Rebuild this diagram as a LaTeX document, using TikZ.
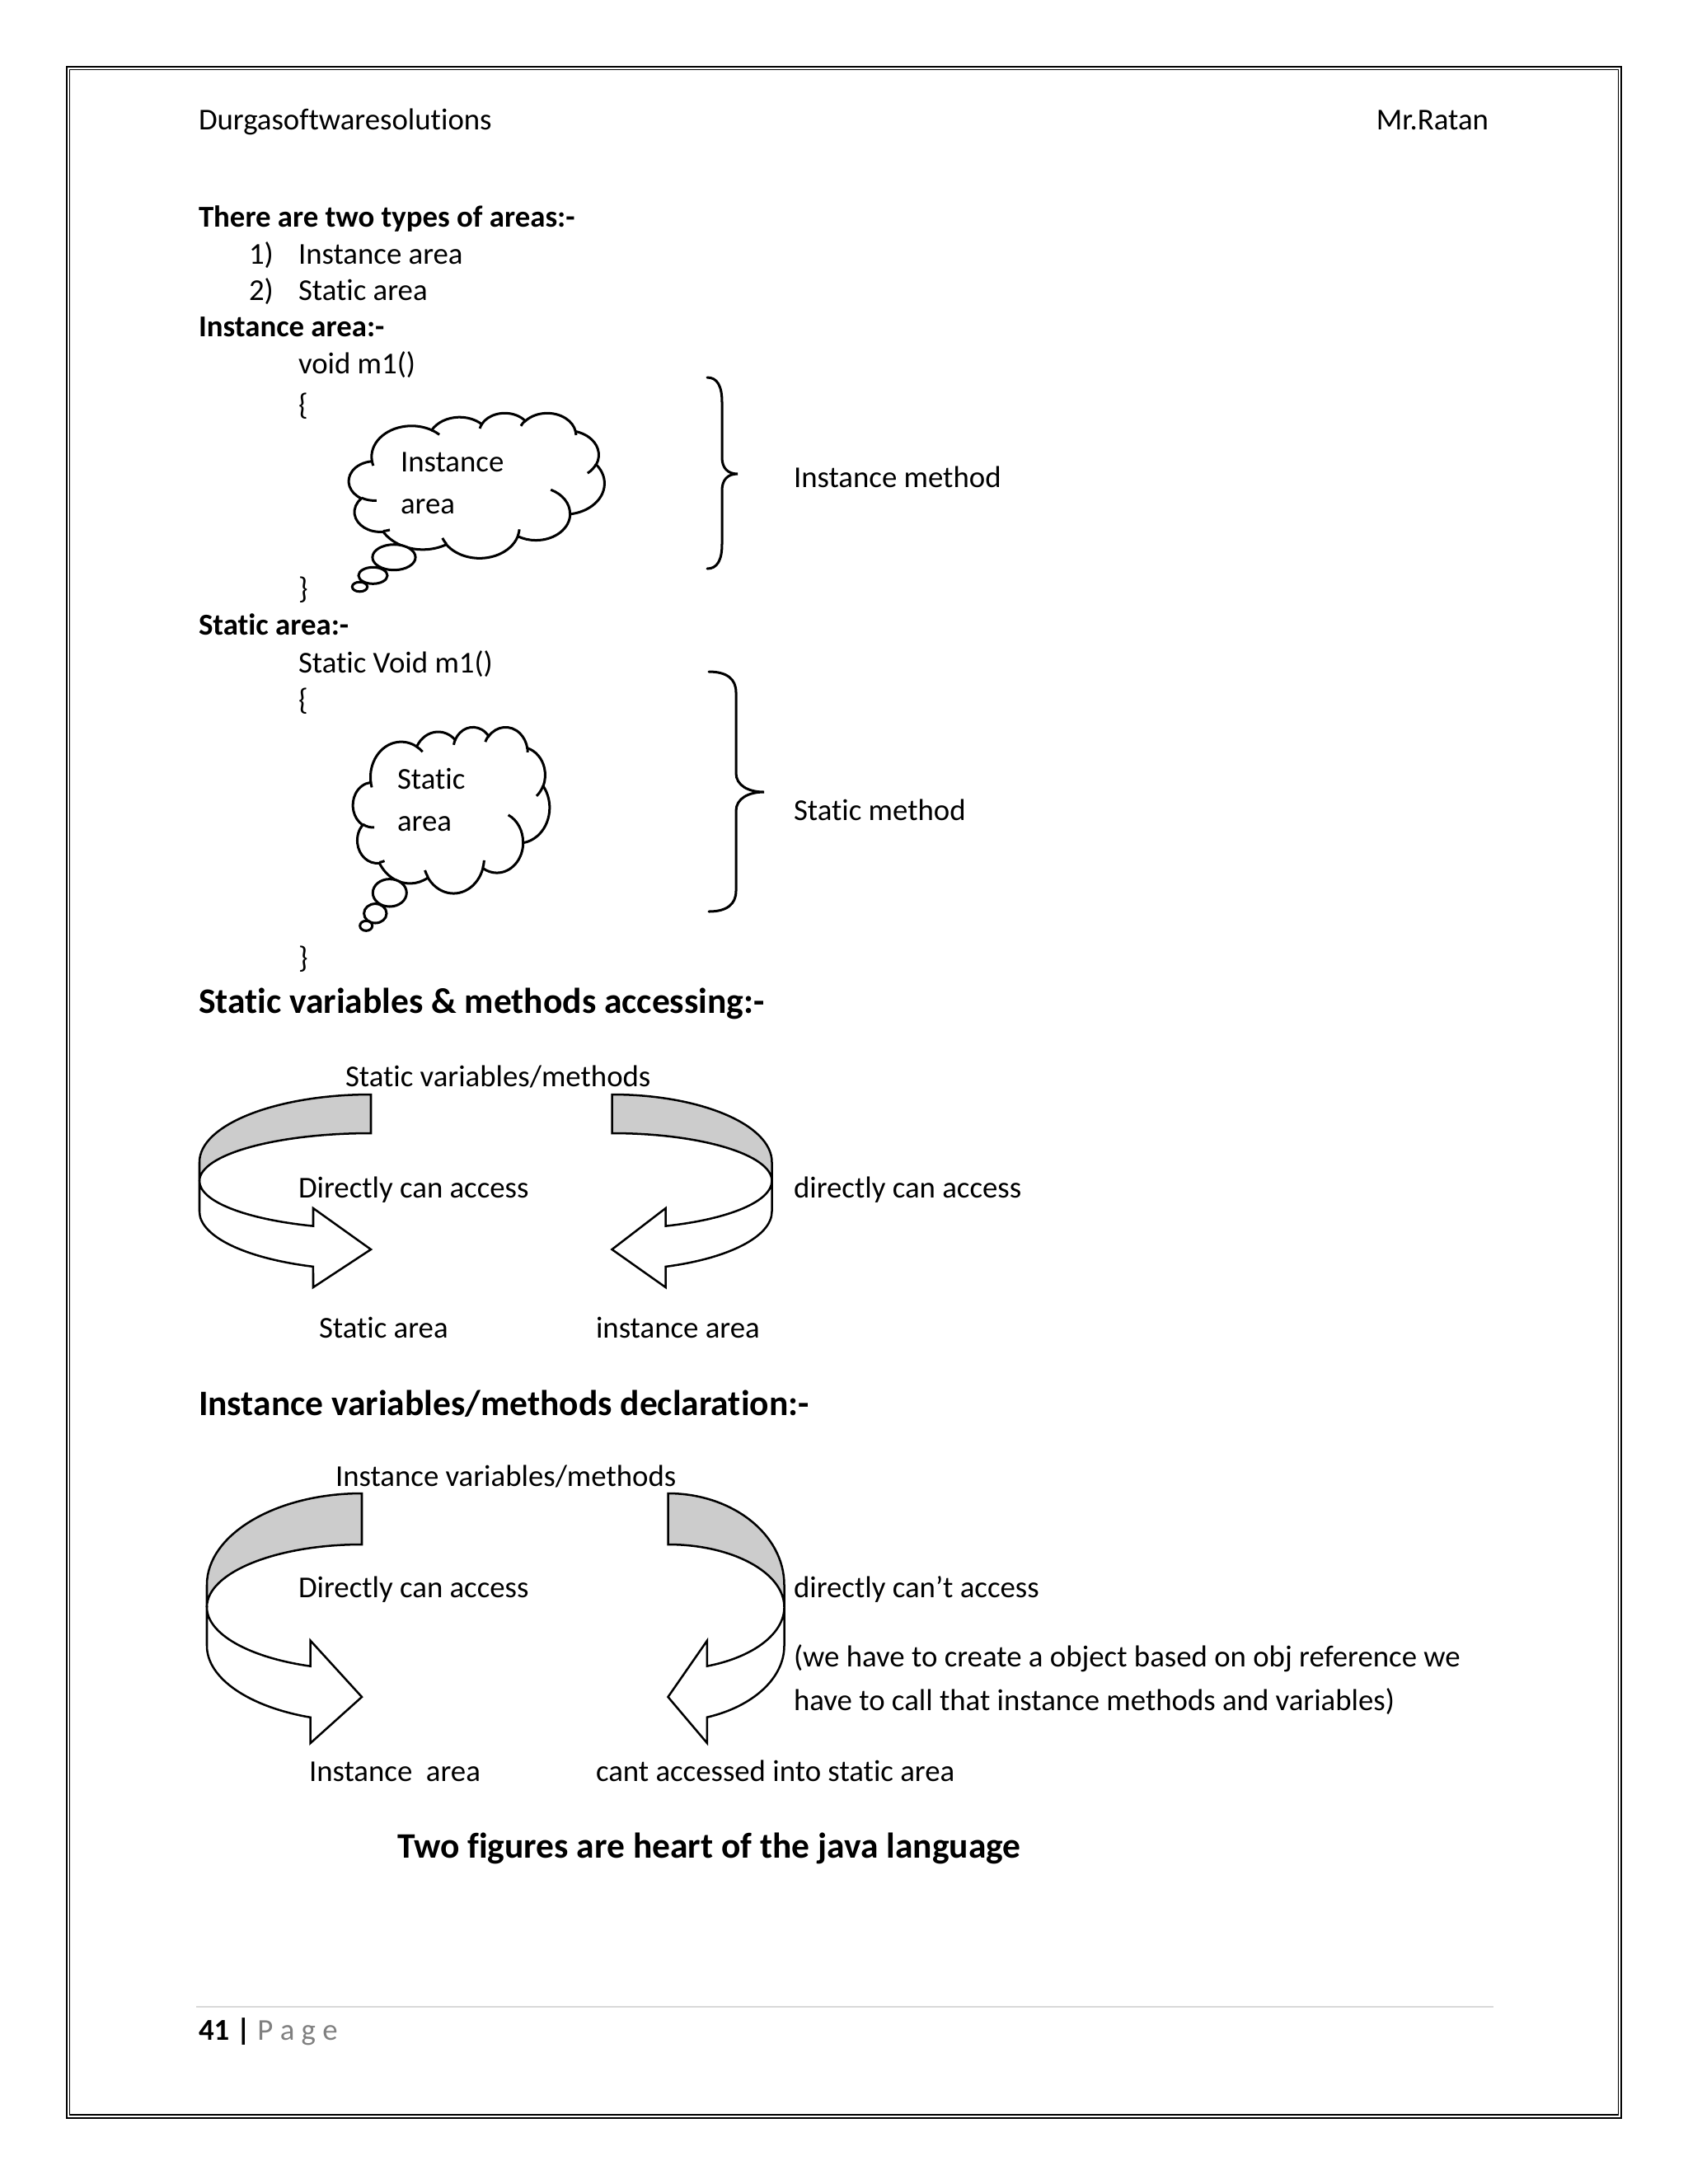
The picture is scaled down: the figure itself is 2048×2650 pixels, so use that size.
\documentclass[tikz,border=0pt]{standalone}
\usepackage{fontspec}
\setmainfont{Carlito}[Ligatures={NoCommon}]
\newcommand\ooCloudPath[1]{%
  \gdef\cloudP{}%
  \foreach \w/\h/\s/\d in {#1}{%
    \pgfmathsetmacro\tA{atan2(\w*sin(\s),\h*cos(\s))}%
    \pgfmathsetmacro\tB{atan2(\w*sin(\s+\d),\h*cos(\s+\d))}%
    \pgfmathsetmacro\dT{mod(\tB-\tA+720,360)}%
    \xdef\cloudP{\cloudP arc[start angle=\tA, delta angle=\dT, x radius=\w, y radius=\h]}%
  }%
}
\newcommand\ooStubs[1]{%
  \foreach \px/\py/\w/\h/\s/\d in #1{%
    \pgfmathsetmacro\tA{atan2(\w*sin(\s),\h*cos(\s))}%
    \pgfmathsetmacro\tB{atan2(\w*sin(\s+\d),\h*cos(\s+\d))}%
    \pgfmathsetmacro\dT{mod(\tB-\tA+720,360)}%
    \draw[cloudline] (\px,\py) arc[start angle=\tA, delta angle=\dT, x radius=\w, y radius=\h];
  }%
}
\newcommand\stubList{46.93/261.77/43.45/59.45/86.7420/26.4295,
69.28/348.99/43.60/59.18/73.6105/11.4475,
164.78/390.90/67.52/92.15/137.6242/14.0811,
288.27/347.51/67.52/92.15/6.4533/15.9984,
341.29/229.54/57.85/78.67/-70.2924/70.9174,
417.98/153.54/53.33/72.73/30.3180/27.7515,
383.24/54.26/48.57/65.95/-13.7443/14.8622,
290.78/39.52/48.57/65.95/-149.1815/18.1954,
221.41/47.20/43.65/59.45/-163.4943/17.6864,
140.00/51.92/67.53/91.90/-66.7070/12.3194,
41.27/157.89/67.53/91.90/157.6544/11.8582}
\begin{document}
\begin{tikzpicture}[x=0.29883pt, y=-0.29883pt,
  txt/.style={anchor=base west, inner sep=0pt, outer sep=0pt, font=\fontsize{11}{13.4}\selectfont},
  txtb/.style={txt, font=\fontsize{11}{13.4}\selectfont\bfseries},
  head/.style={txt, font=\fontsize{13}{16}\selectfont\bfseries},
  cloudline/.style={draw=black, line width=0.9pt},
  band/.style={draw=black, line width=0.75pt, line join=miter},
  bandback/.style={band, fill=black!20},
  bandfront/.style={band, fill=white},
  bracestyle/.style={draw=black, line width=0.9pt, line cap=round}]
\fill[white] (0,0) rectangle (2048,2650);
\useasboundingbox (0,0) rectangle (2048,2650);
% page border
\draw[line width=0.5pt] (81,81) rectangle (1967,2570);
\draw[line width=0.35pt] (84.5,84.5) rectangle (1963.5,2566);
% header
\node[txt] (hdrL) at (241,157) {Durgasoftwaresolutions};
\node[txt, anchor=base east] (hdrR) at (1806,157) {Mr.Ratan};
% intro
\node[txtb] (t1) at (241,275) {There are two types of areas:-};
\node[txt] (n1) at (302,320) {1)};
\node[txt] (i1) at (362,320) {Instance area};
\node[txt] (n2) at (302,364) {2)};
\node[txt] (i2) at (362,364) {Static area};
\node[txtb] (t2) at (241,408) {Instance area:-};
\node[txt] (c1) at (362,453) {void m1()};
\node[txt] (c2) at (362,503) {\{};
% instance cloud
\ooCloudPath{67.53/91.90/-190.4875/123.7805, 53.33/72.67/-144.1024/89.9452, 43.65/59.45/-145.8079/99.7230, 48.57/65.95/-130.9861/117.2417, 53.33/72.73/-78.7089/109.0269, 67.75/92.20/-46.2673/130.2690, 57.85/78.67/0.6250/114.0333, 67.52/92.15/22.4516/115.1726, 77.20/105.43/66.2426/75.7110, 43.60/59.18/-274.9421/146.7356, 43.45/59.45/-246.8285/152.5189}
\begin{scope}[shift={(126.495pt,-149.624pt)}, x=0.214444pt, y=-0.121746pt]
  \path[cloudline, fill=white] (39,143.7) \cloudP -- cycle;
  \ooStubs{\stubList}
\end{scope}
\draw[cloudline, fill=white] (478,676.2) ellipse [x radius=26.1, y radius=15.5];
\draw[cloudline, fill=white] (452.5,698.3) ellipse [x radius=17.5, y radius=10];
\draw[cloudline, fill=white] (436.5,712) ellipse [x radius=9.2, y radius=5.8];
\node[txt] (cl1a) at (486,572) {Instance};
\node[txt] (cl1b) at (486,623) {area};
\node[txt] (c3) at (362,726) {\}};
\draw[bracestyle] (858,458) .. controls (870,458) and (876,468) .. (876,488) -- (876,555) .. controls (876,568) and (883,575) .. (895,575) .. controls (883,575) and (876,582) .. (876,595) -- (876,660) .. controls (876,680) and (870,690) .. (858,690);
\node[txt] (im) at (963,591) {Instance method};
% static area
\node[txtb] (t3) at (241,770) {Static area:-};
\node[txt] (c4) at (362,816) {Static Void m1()};
\node[txt] (c5) at (362,861) {\{};
\begin{scope}[shift={(127.989pt,-263.478pt)}, x=0.164911pt, y=-0.139454pt]
  \path[cloudline, fill=white] (39,143.7) \cloudP -- cycle;
  \ooStubs{\stubList}
\end{scope}
\draw[cloudline, fill=white] (472.8,1083.3) ellipse [x radius=20.5, y radius=16.7];
\draw[cloudline, fill=white] (455.3,1108.3) ellipse [x radius=13.7, y radius=11.7];
\draw[cloudline, fill=white] (444.2,1123.3) ellipse [x radius=7.5, y radius=6];
\node[txt] (cl2a) at (482,957) {Static};
\node[txt] (cl2b) at (482,1008) {area};
\node[txt] (c6) at (362,1174) {\}};
\draw[bracestyle] (860,815) .. controls (882,815) and (893,824) .. (893,840) -- (893,938) .. controls (893,953) and (908,961) .. (927,961) .. controls (908,961) and (893,969) .. (893,984) -- (893,1081) .. controls (893,1097) and (882,1106) .. (860,1106);
\node[txt] (sm) at (963,995) {Static method};
% section 1
\node[head] (h1) at (241,1229) {Static variables \& methods accessing:-};
\node[txt] (a1) at (419,1318) {Static variables/methods};
\draw[bandback] (450,1328) arc[start angle=-90, end angle=-180, x radius=208, y radius=82] -- (242,1433) arc[start angle=180, end angle=270, x radius=208, y radius=58] -- cycle;
\draw[bandfront] (242,1433) -- (242,1470) arc[start angle=180, end angle=109.67, x radius=208, y radius=71] -- (380,1562) -- (450,1516) -- (380,1466) -- (380,1487.6) arc[start angle=109.67, end angle=180, x radius=208, y radius=58] -- cycle;
\draw[bandback] (742.5,1328) arc[start angle=-90, end angle=0, x radius=194, y radius=82] -- (936.5,1433) arc[start angle=0, end angle=-90, x radius=194, y radius=58] -- cycle;
\draw[bandfront] (936.5,1433) -- (936.5,1470) arc[start angle=0, end angle=70.37, x radius=194, y radius=71] -- (807.6,1562) -- (742.5,1516) -- (807.6,1466) -- (807.6,1487.6) arc[start angle=70.37, end angle=0, x radius=194, y radius=58] -- cycle;
\node[txt] (a2) at (362,1453) {Directly can access};
\node[txt] (a3) at (963,1453) {directly can access};
\node[txt] (a4) at (387,1623) {Static area};
\node[txt] (a5) at (723,1623) {instance area};
% section 2
\node[head] (h2) at (241,1717) {Instance variables/methods declaration:-};
\node[txt] (b1) at (407,1803) {Instance variables/methods};
\draw[bandback] (439,1812) arc[start angle=-90, end angle=-180, x radius=188, y radius=111] -- (251,1950) arc[start angle=180, end angle=270, x radius=188, y radius=76] -- cycle;
\draw[bandfront] (251,1950) -- (251,1997) arc[start angle=180, end angle=109.35, x radius=188, y radius=92] -- (376.7,2115) -- (439,2059) -- (376.7,1990.7) -- (376.7,2021.7) arc[start angle=109.35, end angle=180, x radius=188, y radius=76] -- cycle;
\draw[bandback] (810.5,1812) arc[start angle=-90, end angle=0, x radius=141, y radius=111] -- (951.5,1950) arc[start angle=0, end angle=-90, x radius=141, y radius=76] -- cycle;
\draw[bandfront] (951.5,1950) -- (951.5,1997) arc[start angle=0, end angle=70.37, x radius=141, y radius=92] -- (857.9,2115) -- (810.5,2059) -- (857.9,1990.7) -- (857.9,2021.6) arc[start angle=70.37, end angle=0, x radius=141, y radius=76] -- cycle;
\node[txt] (b2) at (362,1938) {Directly can access};
\node[txt] (b3) at (963,1938) {directly can’t access};
\node[txt] (b4) at (963,2022) {(we have to create a object based on obj reference we};
\node[txt] (b5) at (963,2075) {have to call that instance methods and variables)};
\node[txt] (b6) at (375,2161) {Instance\ \ area};
\node[txt] (b7) at (723,2161) {cant accessed into static area};
\node[head] (h3) at (482,2254) {Two figures are heart of the java language};
% footer
\draw[line width=0.6pt, black!15] (238,2435) -- (1812,2435);
\node[txt] (foot) at (241,2475) {\textbf{41 |} \textcolor{black!50}{P a g e}};
\end{tikzpicture}
\end{document}
